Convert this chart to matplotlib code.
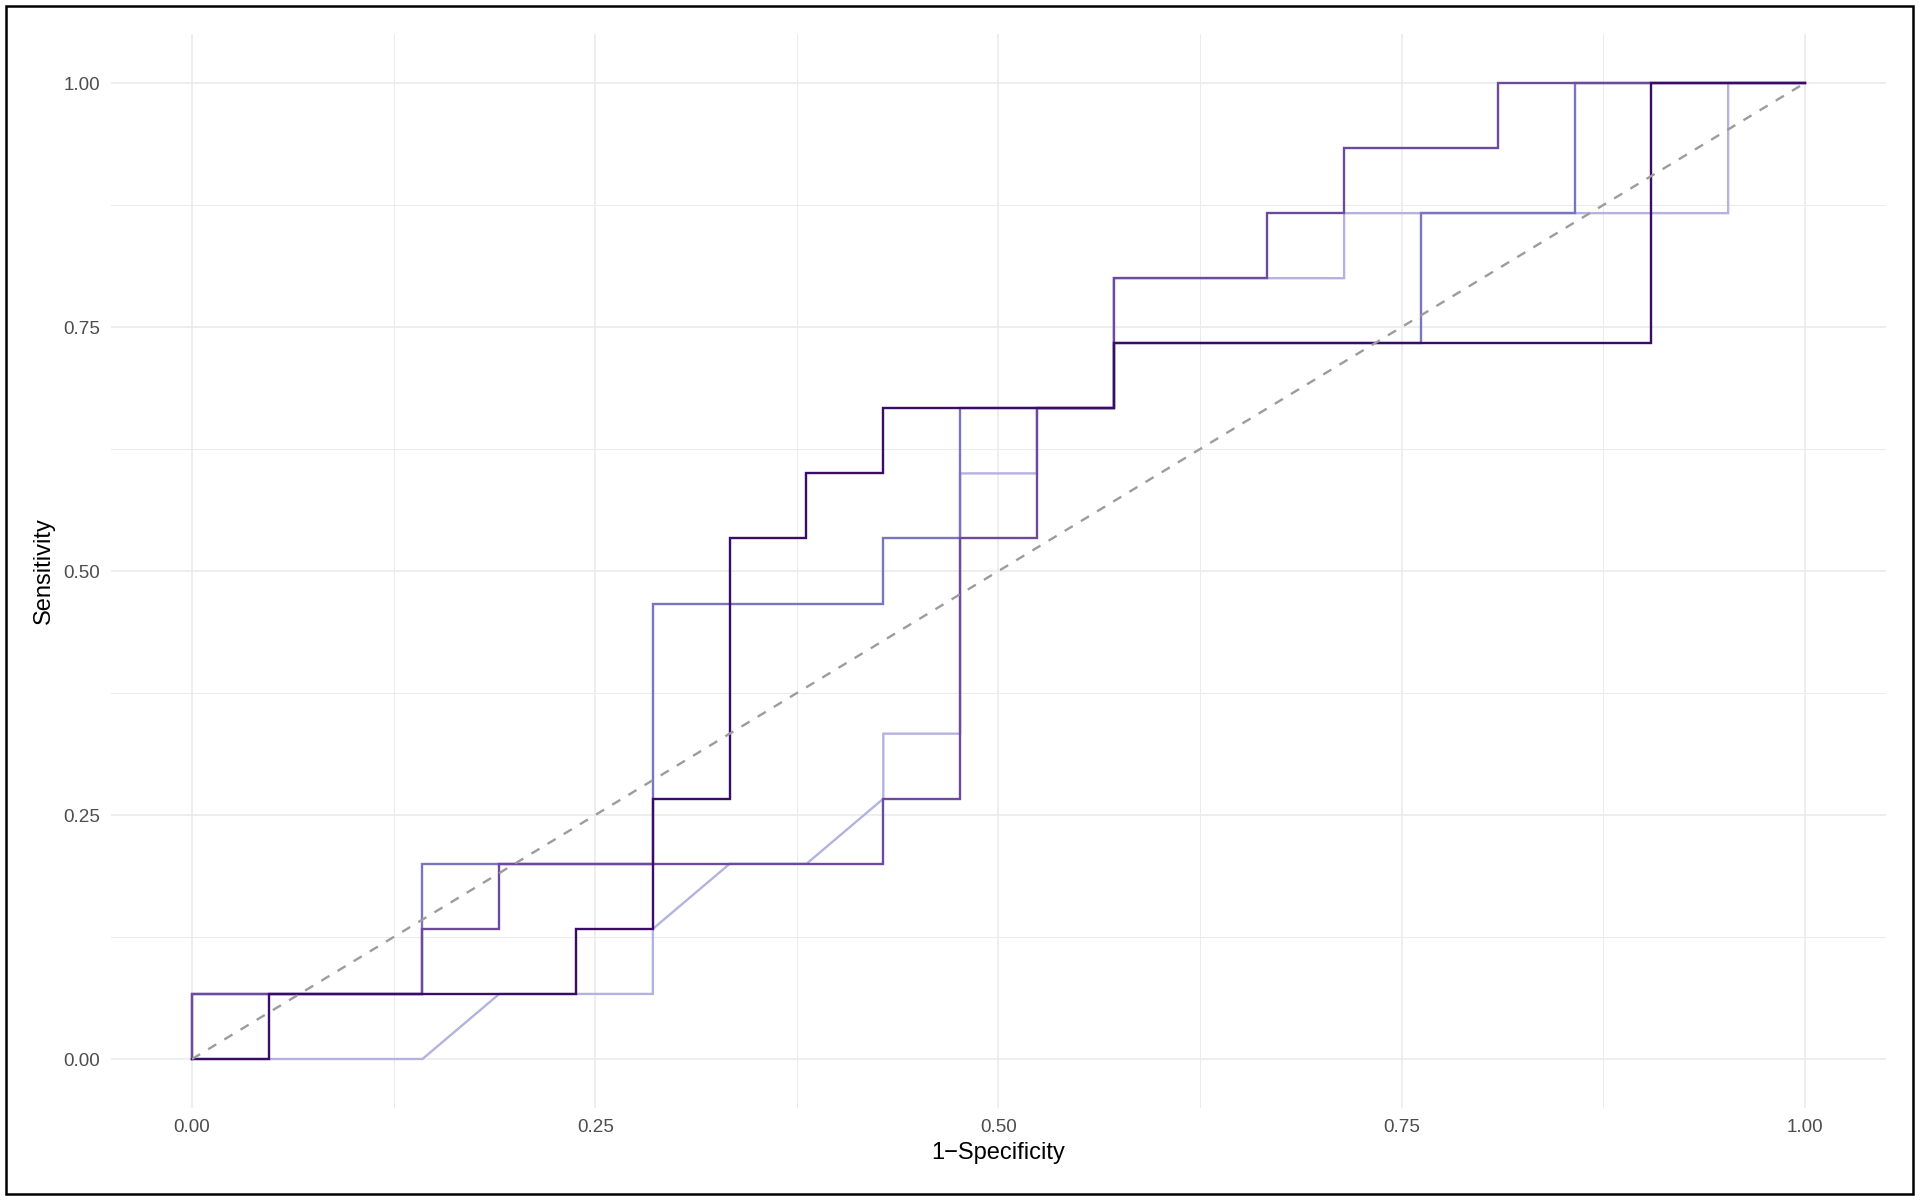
import numpy as np
import matplotlib
matplotlib.use('Agg')
import matplotlib.pyplot as plt
from matplotlib.patches import Rectangle

plt.rcParams['font.family'] = ['Liberation Sans', 'DejaVu Sans']

# ROC steps, stored as counts: 21 controls (x), 15 cases (y)
n_controls = 21
n_cases = 15

light_fp = [0, 3, 4, 6, 6, 7, 8, 9, 9, 10, 10, 11, 11, 12, 12, 15, 15, 20, 20, 21]
light_tp = [0, 0, 1, 1, 2, 3, 3, 4, 5, 5, 9, 9, 10, 10, 12, 12, 13, 13, 15, 15]

blue_fp = [0, 0, 3, 3, 6, 6, 9, 9, 10, 10, 12, 12, 16, 16, 18, 18, 21]
blue_tp = [0, 1, 1, 3, 3, 7, 7, 8, 8, 10, 10, 11, 11, 13, 13, 15, 15]

mid_fp = [0, 0, 3, 3, 4, 4, 9, 9, 10, 10, 11, 11, 12, 12, 14, 14, 15, 15, 17, 17, 21]
mid_tp = [0, 1, 1, 2, 2, 3, 3, 4, 4, 8, 8, 10, 10, 12, 12, 13, 13, 14, 14, 15, 15]

dark_fp = [0, 1, 1, 5, 5, 6, 6, 7, 7, 8, 8, 9, 9, 12, 12, 19, 19, 21]
dark_tp = [0, 0, 1, 1, 2, 2, 4, 4, 8, 8, 9, 9, 10, 10, 11, 11, 15, 15]

series = [
    (light_fp, light_tp, '#B4B3DF'),
    (blue_fp, blue_tp, '#7A75C0'),
    (mid_fp, mid_tp, '#6E4A9E'),
    (dark_fp, dark_tp, '#3A0C66'),
]

major_ticks = [0, 0.25, 0.5, 0.75, 1.0]
tick_labels = ['0.00', '0.25', '0.50', '0.75', '1.00']
minor_ticks = [0.125, 0.375, 0.625, 0.875]

fig = plt.figure(figsize=(19.2, 12), dpi=100)
ax = fig.add_axes([0.05802, 0.07683, 0.92406, 0.89467])

for fp, tp, col in series:
    x = np.array(fp) / n_controls
    y = np.array(tp) / n_cases
    ax.plot(x, y, color=col, lw=1.7, solid_joinstyle='miter', zorder=3)

ax.plot([0, 1], [0, 1], color='#9c9c9c', lw=1.7, ls=(0, (4, 4)), zorder=4)

ax.set_xlim(-0.05, 1.05)
ax.set_ylim(-0.05, 1.05)
ax.set_xticks(major_ticks)
ax.set_xticklabels(tick_labels)
ax.set_yticks(major_ticks)
ax.set_yticklabels(tick_labels)
ax.set_xticks(minor_ticks, minor=True)
ax.set_yticks(minor_ticks, minor=True)
ax.grid(which='major', color='#ebebeb', lw=1.2, zorder=0)
ax.grid(which='minor', color='#ebebeb', lw=0.7, zorder=0)
ax.set_axisbelow(True)
for s in ax.spines.values():
    s.set_visible(False)
ax.tick_params(which='both', length=0, labelsize=13.6, labelcolor='#4d4d4d')
ax.tick_params(axis='x', pad=8)
ax.tick_params(axis='y', pad=8)

ax.set_xlabel('1\u2212Specificity', fontsize=17, color='black', va='center')
ax.xaxis.set_label_coords(0.5, -0.042)
ax.set_ylabel('Sensitivity', fontsize=17, color='black', va='center')
ax.yaxis.set_label_coords(-0.038, 0.5)

# frame around whole figure
fig.patches.append(Rectangle((6 / 1920, 6 / 1200), 1907 / 1920, 1188 / 1200,
                             transform=fig.transFigure, fill=False,
                             edgecolor='black', lw=1.8))

fig.savefig('out.png', dpi=100)
